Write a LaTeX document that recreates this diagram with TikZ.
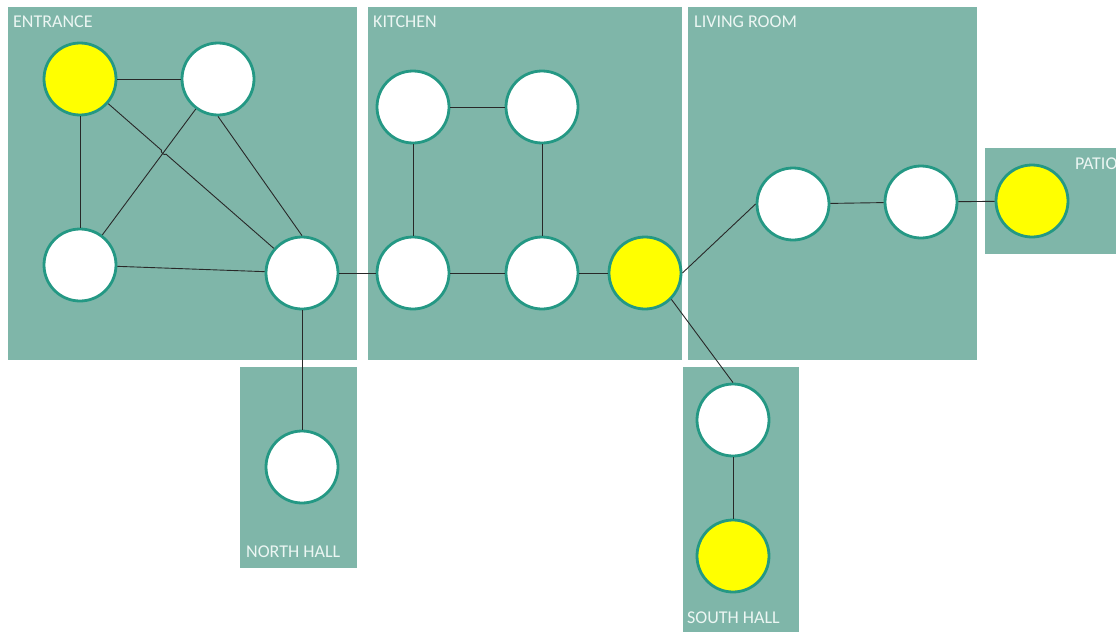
\documentclass[tikz,border=0pt]{standalone}
\usepackage{fontspec}
\setmainfont{Carlito}
\usetikzlibrary{calc}
\definecolor{panelfill}{RGB}{127,182,169}
\definecolor{ringcol}{RGB}{36,152,132}
\definecolor{labelcol}{RGB}{236,246,243}
\definecolor{edgecol}{RGB}{40,40,40}
\definecolor{hotfill}{RGB}{255,255,0}
\begin{document}
\begin{tikzpicture}[x=1pt,y=-1pt,
  panel/.style={fill=panelfill,draw=none},
  room/.style={anchor=base west,text=labelcol,font=\fontsize{18}{18}\selectfont,inner sep=0pt},
  spot/.style={circle,draw=ringcol,line width=2.8pt,fill=white,minimum size=72pt,inner sep=0pt},
  hot/.style={spot,fill=hotfill},
  link/.style={draw=edgecol,line width=0.9pt}]
  \useasboundingbox (0,0) rectangle (1116,632);
  \clip (0,0) rectangle (1116,632);
  % room panels
  \fill[panel] (8,7) rectangle (357,360);
  \fill[panel] (368,7) rectangle (682,360);
  \fill[panel] (688,7) rectangle (977,360);
  \fill[panel] (985,148) rectangle (1125,254);
  \fill[panel] (240,367) rectangle (357,568);
  \fill[panel] (683,367) rectangle (799,632);
  % room names
  \node[room] (tEntrance) at (13,27) {ENTRANCE};
  \node[room] (tKitchen) at (373,27) {KITCHEN};
  \node[room] (tLiving) at (694,27) {LIVING ROOM};
  \node[room] (tPatio) at (1075,169) {PATIO};
  \node[room] (tNorth) at (246,557) {NORTH HALL};
  \node[room] (tSouth) at (687,623) {SOUTH HALL};
  % entrance
  \node[hot]  (E1) at (80,79) {};
  \node[spot] (E2) at (218,79) {};
  \node[spot] (E3) at (80,265) {};
  \node[spot] (E4) at (302,273) {};
  % kitchen
  \node[spot] (K1) at (413,107) {};
  \node[spot] (K2) at (542,107) {};
  \node[spot] (K3) at (413,273) {};
  \node[spot] (K4) at (542,273) {};
  \node[hot]  (K5) at (645,273) {};
  % living room and patio
  \node[spot] (L1) at (793,204) {};
  \node[spot] (L2) at (921,202) {};
  \node[hot]  (P1) at (1032,201) {};
  % halls
  \node[spot] (N1) at (302,467) {};
  \node[spot] (S1) at (733,420) {};
  \node[hot]  (S2) at (733,556) {};
  % connections
  \coordinate (X) at (intersection of E1--E4 and E2--E3);
  \draw[link] (E1) -- (E2);
  \draw[link] (E1) -- (E3);
  \draw[link] (E1) -- ($(X)!3pt!(E1)$) to[bend right=90] ($(X)!3pt!(E4)$) -- (E4);
  \draw[link] (E2) -- (E3);
  \draw[link] (E2.south) -- (E4.north);
  \draw[link] (E3) -- (E4);
  \draw[link] (E4) -- (K3);
  \draw[link] (E4) -- (N1);
  \draw[link] (K1) -- (K2);
  \draw[link] (K1) -- (K3);
  \draw[link] (K2) -- (K4);
  \draw[link] (K3) -- (K4);
  \draw[link] (K4) -- (K5);
  \draw[link] (K5.east) -- (L1.west);
  \draw[link] (L1) -- (L2);
  \draw[link] (L2) -- (P1);
  \draw[link] (K5.south east) -- (S1.north);
  \draw[link] (S1) -- (S2);
\end{tikzpicture}
\end{document}
